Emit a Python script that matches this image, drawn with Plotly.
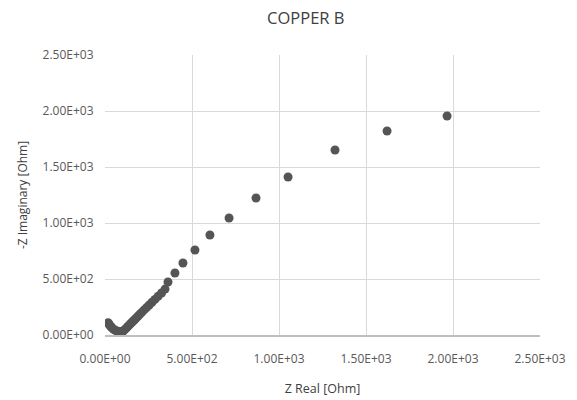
import plotly.graph_objects as go

# Data (Nyquist plot)
z_real = [18, 22, 27, 33, 40, 48, 57, 66, 75, 84, 92, 100, 108, 116, 124, 132, 140,
          149, 158, 168, 178, 189, 200, 212, 225, 239, 254, 270, 287, 305, 325,
          345, 362, 402, 448, 517, 603, 713, 868, 1052, 1322, 1621, 1966]
z_imag = [110, 100, 88, 76, 64, 53, 44, 37, 32, 29, 28, 31, 40, 52, 64, 77, 90,
          104, 118, 134, 150, 167, 185, 204, 224, 245, 268, 292, 318, 345, 375,
          410, 473, 554, 643, 759, 893, 1045, 1223, 1411, 1652, 1821, 1955]

x_tick_vals = [0, 500, 1000, 1500, 2000, 2500]
x_tick_text = ["0.00E+00", "5.00E+02", "1.00E+03", "1.50E+03", "2.00E+03", "2.50E+03"]
y_tick_vals = [0, 500, 1000, 1500, 2000, 2500]
y_tick_text = ["0.00E+00", "5.00E+02", "1.00E+03", "1.50E+03", "2.00E+03", "2.50E+03"]

fig = go.Figure(go.Scatter(
    x=z_real, y=z_imag, mode="markers",
    marker=dict(size=9, color="#555555"),
    showlegend=False,
))

font_family = "Open Sans, Liberation Sans, sans-serif"
fig.update_layout(
    width=577, height=400,
    margin=dict(l=105, r=37, t=55, b=65),
    paper_bgcolor="white", plot_bgcolor="white",
    title=dict(text="COPPER B", x=0.53, xanchor="center", y=0.955, yanchor="middle",
               font=dict(family=font_family, size=16.5, color="#404040")),
    font=dict(family=font_family, color="#595959"),
)
fig.update_xaxes(
    range=[0, 2500], tickvals=x_tick_vals, ticktext=x_tick_text,
    showgrid=True, gridcolor="#d9d9d9", gridwidth=1,
    showline=True, linecolor="#bfbfbf", linewidth=1.5, zeroline=False,
    ticks="outside", ticklen=12, tickcolor="rgba(0,0,0,0)",
    tickfont=dict(size=12, color="#595959"), automargin=False,
    title=dict(text="Z Real [Ohm]", font=dict(size=12.5, color="#404040"), standoff=18),
)
fig.update_yaxes(
    range=[0, 2500], tickvals=y_tick_vals, ticktext=y_tick_text,
    showgrid=True, gridcolor="#d9d9d9", gridwidth=1,
    showline=False, zeroline=False,
    ticks="outside", ticklen=8, tickcolor="rgba(0,0,0,0)",
    tickfont=dict(size=12, color="#595959"), automargin=False,
    title=dict(text="-Z Imaginary [Ohm]", font=dict(size=12, color="#404040"), standoff=12),
)

fig.write_html("out.html")
